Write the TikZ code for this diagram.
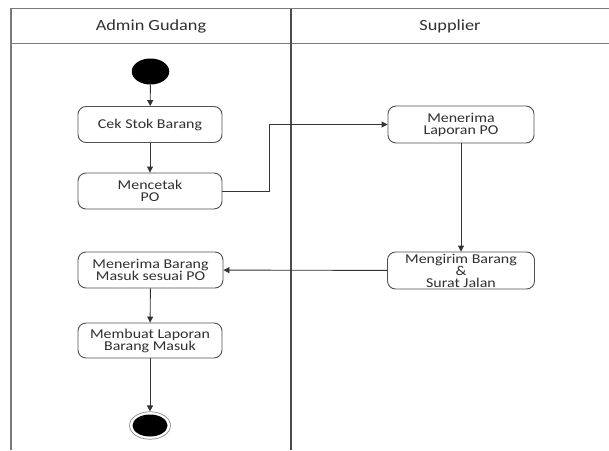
\documentclass[tikz,border=0pt]{standalone}
\usepackage{fontspec}
\setmainfont[FakeStretch=1.18]{Carlito}
\usetikzlibrary{shapes.geometric,arrows.meta}
\definecolor{lanegray}{HTML}{7A7A7A}
\definecolor{boxgray}{HTML}{505050}
\definecolor{txtgray}{HTML}{303030}
\begin{document}
\begin{tikzpicture}[x=1pt,y=-1pt,
  activity/.style={draw=boxgray,line width=0.9pt,rounded corners=8pt,
    minimum width=144pt,minimum height=36pt,align=center,inner sep=1pt,
    text=txtgray,font=\fontsize{13.5}{12}\selectfont},
  lanehead/.style={text=txtgray,font=\fontsize{15.5}{16}\selectfont},
  flow/.style={draw=black!80,line width=0.9pt,-{Triangle[length=6pt,width=6pt]}},
  link/.style={draw=black!80,line width=0.9pt},
  startdot/.style={ellipse,fill=black,draw=none,minimum width=37.5pt,minimum height=26pt,inner sep=0pt},
  endring/.style={ellipse,draw=black!45,line width=0.7pt,minimum width=41pt,minimum height=27.5pt,inner sep=0pt},
  enddot/.style={ellipse,fill=black,draw=none,minimum width=35pt,minimum height=22pt,inner sep=0pt}]
\useasboundingbox (0,0) rectangle (609,450);
\fill[white] (0,0) rectangle (609,450);

% swimlane frame
\draw[lanegray,line width=1.4pt] (11,450) -- (11,8.7) -- (609,8.7);
\draw[lanegray,line width=1.2pt] (11,43.5) -- (609,43.5);
\draw[black!70,line width=1.2pt] (291,8.7) -- (291,450);
\node[lanehead] (laneA) at (151,26) {Admin Gudang};
\node[lanehead] (laneB) at (450,26) {Supplier};

% activities
\node[startdot] (start) at (150.5,71.5) {};
\node[activity] (cek) at (150,124.5) {Cek Stok Barang};
\node[activity] (cetak) at (150,191) {Mencetak\\PO};
\node[activity,minimum width=146pt,minimum height=37pt] (terima) at (461,124.5) {Menerima\\Laporan PO};
\node[activity,minimum width=147pt,minimum height=37pt] (kirim) at (461,270.5) {Mengirim Barang\\\&\\Surat Jalan};
\node[activity,minimum width=145pt] (masuk) at (150.5,270) {Menerima Barang\\Masuk sesuai PO};
\node[activity,minimum height=35pt] (laporan) at (150,340.5) {Membuat Laporan\\Barang Masuk};
\node[endring] (finish) at (150,425.5) {};
\node[enddot] (finishdot) at (150,425.5) {};

% control flow
\draw[flow] (start) -- (cek);
\draw[flow] (cek) -- (cetak);
\draw[flow] (cetak.east) -- ++(47,0) |- (terima.west);
\draw[flow] (terima) -- (kirim);
\draw[flow] (kirim) -- (masuk);
\draw[flow] (masuk) -- (laporan);
\draw[flow] (laporan) -- (finish);
\end{tikzpicture}
\end{document}
